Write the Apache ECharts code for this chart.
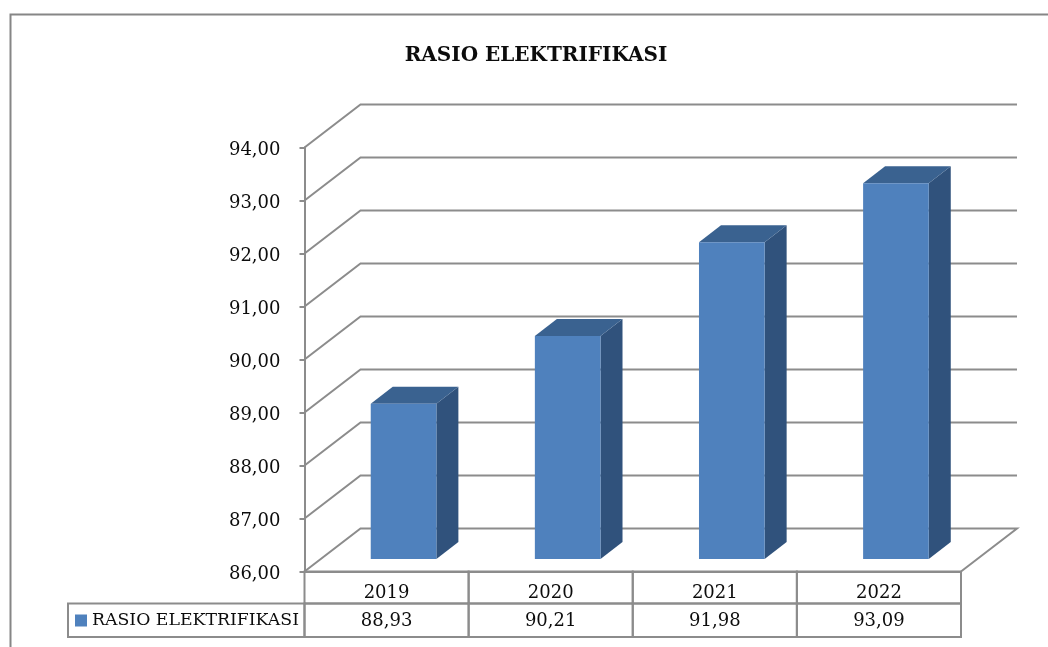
<!DOCTYPE html>
<html>
<head>
<meta charset="utf-8">
<title>Rasio Elektrifikasi</title>
<script src="https://cdn.jsdelivr.net/npm/echarts@6/dist/echarts.min.js"></script>
<style>
    html, body { margin: 0; padding: 0; background: #fff; }
    #chart { width: 1048px; height: 647px; }
</style>
</head>
<body>
<div id="chart"></div>
<script>
const seriesName = 'RASIO ELEKTRIFIKASI';
const years = ['2019', '2020', '2021', '2022'];
const values = [88.93, 90.21, 91.98, 93.09];
const axisTicks = [86, 87, 88, 89, 90, 91, 92, 93, 94];

const FONT = '"DejaVu Serif", serif';
const LINE = '#8c8c8c';
const TEXT = '#0c0c0c';
const WALL_DX = 56;
const WALL_DY = -43;

// Format numbers with a decimal comma
const formatNumber = (value) => value.toFixed(2).replace('.', ',');

const chart = echarts.init(document.getElementById('chart'));

// Back wall grid, drawn from the left wall across the back
const renderWall = (params, api) => {
    const p = api.coord([0, api.value(1)]);
    const left = params.coordSys.x;
    const right = left + params.coordSys.width;
    const points = [[left, p[1]], [left + WALL_DX, p[1] + WALL_DY], [right + WALL_DX, p[1] + WALL_DY]];
    if (api.value(1) === axisTicks[0]) {
        points.push([right, p[1]]);
    }
    return {
        type: 'polyline',
        shape: { points },
        style: { stroke: LINE, lineWidth: 2, fill: null }
    };
};

// 3D column: front, top and side faces
const renderBar = (params, api) => {
    const idx = api.value(0);
    const top = api.coord([idx, api.value(1)]);
    const base = api.coord([idx, axisTicks[0]]);
    const w = api.size([1, 0])[0] * 0.4;
    const x0 = top[0] - w / 2 + 17;
    const x1 = x0 + w;
    const y0 = top[1] - 12.4;
    const y1 = base[1] - 12.4;
    const dx = 22;
    const dy = -17;
    const face = (points, fill) => ({ type: 'polygon', shape: { points }, style: { fill } });
    return {
        type: 'group',
        children: [
            face([[x1, y0], [x1 + dx, y0 + dy], [x1 + dx, y1 + dy], [x1, y1]], '#30527c'),
            face([[x0, y0], [x0 + dx, y0 + dy], [x1 + dx, y0 + dy], [x1, y0]], '#3a6290'),
            face([[x0, y0], [x1, y0], [x1, y1], [x0, y1]], '#4f81bd')
        ]
    };
};

// Data table cells under each category
const renderTable = (params, api) => {
    const c = api.coord([api.value(0), axisTicks[0]]);
    const w = api.size([1, 0])[0];
    const cell = (y, h) => ({
        type: 'rect',
        shape: { x: c[0] - w / 2, y, width: w, height: h },
        style: { stroke: LINE, lineWidth: 2, fill: null }
    });
    return {
        type: 'group',
        children: [
            cell(c[1], 32),
            cell(c[1] + 32, 33.5),
            {
                type: 'text',
                style: {
                    x: c[0],
                    y: c[1] + 50,
                    text: formatNumber(api.value(1)),
                    textAlign: 'center',
                    textVerticalAlign: 'middle',
                    font: '18px ' + FONT,
                    fill: TEXT
                }
            }
        ]
    };
};

chart.setOption({
    animation: false,
    backgroundColor: '#fff',
    title: {
        text: seriesName,
        left: 536,
        top: 46,
        padding: 0,
        textAlign: 'center',
        textStyle: { fontFamily: FONT, fontWeight: 'bold', fontSize: 20, color: TEXT }
    },
    legend: {
        data: [seriesName],
        left: 75,
        top: 612,
        padding: 0,
        icon: 'rect',
        itemWidth: 12,
        itemHeight: 12,
        itemGap: 0,
        selectedMode: false,
        textStyle: { fontFamily: FONT, fontSize: 17.3, color: TEXT }
    },
    grid: { left: 304.5, top: 147.5, width: 656.5, height: 424 },
    xAxis: {
        type: 'category',
        data: years,
        axisTick: { show: false },
        axisLine: { lineStyle: { color: LINE, width: 2 } },
        axisLabel: { fontFamily: FONT, fontSize: 18, color: TEXT, margin: 13 }
    },
    yAxis: {
        type: 'value',
        min: axisTicks[0],
        max: axisTicks[axisTicks.length - 1],
        interval: 1,
        splitLine: { show: false },
        axisLine: { show: true, lineStyle: { color: LINE, width: 2 } },
        axisTick: { show: true, length: 5, lineStyle: { color: LINE, width: 2 } },
        axisLabel: {
            fontFamily: FONT,
            fontSize: 18,
            color: TEXT,
            margin: 24,
            verticalAlign: 'top',
            lineHeight: 6,
            formatter: formatNumber
        }
    },
    graphic: [
        {
            type: 'polyline',
            shape: { points: [[10.5, 647], [10.5, 14.5], [1048, 14.5]] },
            style: { stroke: '#868686', lineWidth: 2, fill: null }
        },
        {
            type: 'rect',
            shape: { x: 68, y: 603.5, width: 236.5, height: 33.5 },
            style: { stroke: LINE, lineWidth: 2, fill: null }
        }
    ],
    series: [
        {
            name: 'wall',
            type: 'custom',
            renderItem: renderWall,
            data: axisTicks.map((tick) => [0, tick]),
            encode: { x: 0, y: 1 },
            z: 1,
            silent: true
        },
        {
            name: 'table',
            type: 'custom',
            renderItem: renderTable,
            data: values.map((value, i) => [i, value]),
            encode: { x: 0, y: 1 },
            z: 2,
            silent: true
        },
        {
            name: seriesName,
            type: 'custom',
            renderItem: renderBar,
            data: values.map((value, i) => [i, value]),
            encode: { x: 0, y: 1 },
            itemStyle: { color: '#4f81bd' },
            z: 3
        }
    ]
});
</script>
</body>
</html>
